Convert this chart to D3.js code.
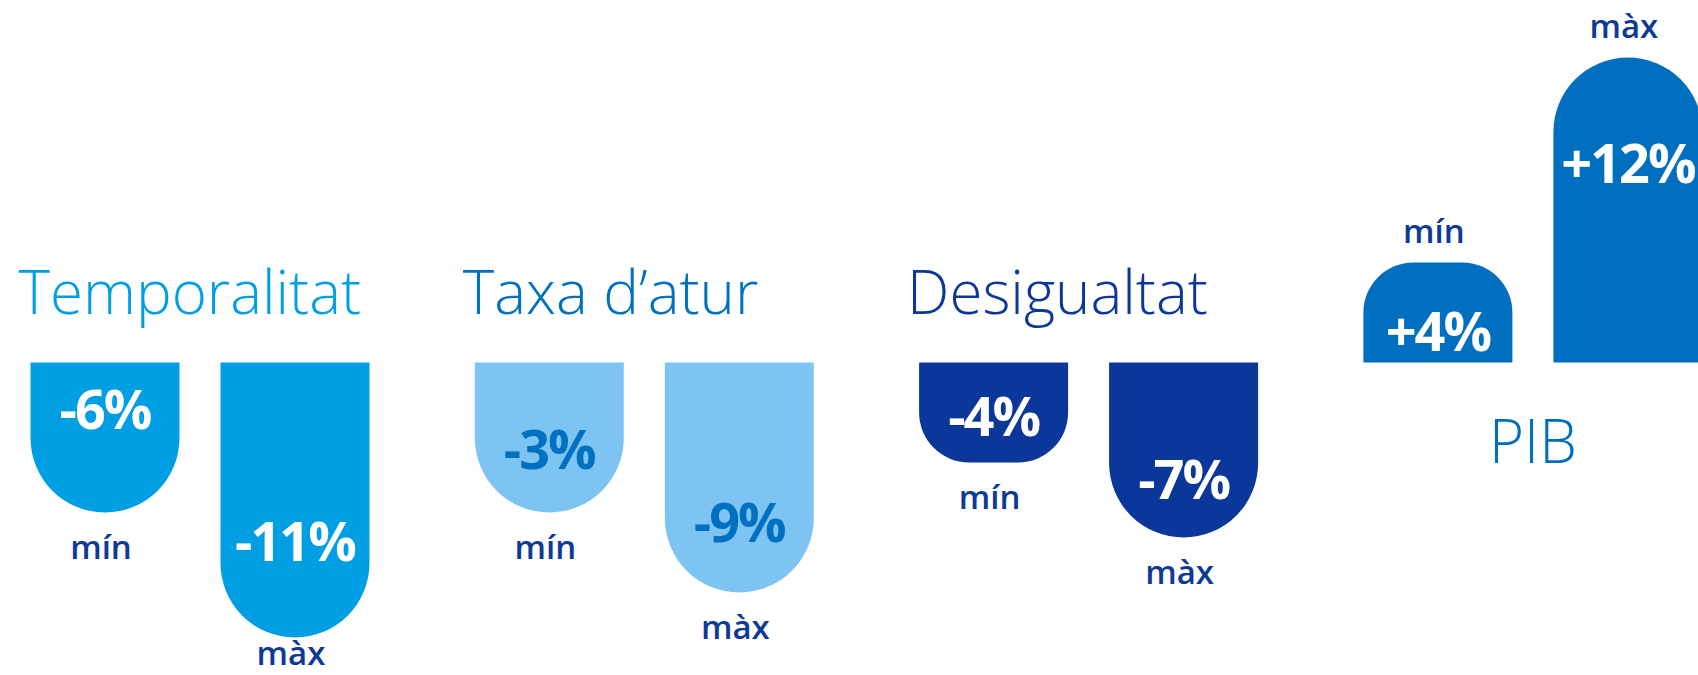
<!DOCTYPE html>
<html>

<head>
  <meta charset="UTF-8" />
  <title>Temporalitat, atur, desigualtat i PIB</title>
  <style>
    body {
      margin: 0;
      background: white;
      font-family: "Open Sans", Arial, sans-serif;
    }

    .title {
      font-size: 60px;
      font-weight: 300;
    }

    .value {
      font-size: 54px;
      font-weight: 700;
      letter-spacing: -2px;
    }

    .stat {
      font-size: 33px;
      font-weight: 600;
      fill: #0d3a94;
    }
  </style>
  <script src="https://d3js.org/d3.v7.min.js"></script>
</head>

<body>
  <div id="chart"></div>
  <script>
    // data
    const groups = ["Temporalitat", "Taxa d’atur", "Desigualtat", "PIB"];
    const stats = ["mín", "màx"];
    const minValues = [-6, -3, -4, 4];
    const maxValues = [-11, -9, -7, 12];
    // bar length as drawn, in points (the -3% bar is drawn as long as the -6% one)
    const minLengths = [6, 6, 4, 4];
    const maxLengths = [11, 9.2, 7, 12.2];

    const barColors = ["#009fe3", "#7dc4f3", "#0a3799", "#006fc0"];
    const titleColors = ["#009fe3", "#0070c0", "#0a3799", "#006fc0"];
    const valueColors = ["white", "#0070c0", "white", "white"];
    // where the value label baseline sits along each bar (0 = base, 1 = end)
    const minLabelAt = [0.44, 0.71, 0.73, 0.12];
    const maxLabelAt = [0.72, 0.78, 0.78, 0.59];

    let width = 1698, height = 675;
    let baseY = 362.5;
    let barW = 149;

    let svg = d3.select("#chart")
      .append("svg")
      .attr("width", width)
      .attr("height", height);

    let xGroup = d3.scaleBand()
      .domain(groups)
      .range([30.5, 30.5 + 444.3 * 4])
      .paddingInner(0)
      .paddingOuter(0);

    let xStat = d3.scaleOrdinal()
      .domain(stats)
      .range([0, 190]);

    let len = d3.scaleLinear()
      .domain([0, 12])
      .range([0, 300]);

    let bars = [];
    groups.forEach((g, i) => {
      [[minValues, minLengths, minLabelAt], [maxValues, maxLengths, maxLabelAt]].forEach((arr, j) => {
        bars.push({
          group: g, gi: i, stat: stats[j],
          value: arr[0][i], length: arr[1][i], labelAt: arr[2][i]
        });
      });
    });

    const barPath = d => {
      let x = xGroup(d.group) + xStat(d.stat);
      let h = len(d.length);
      let r = Math.min(barW / 2, h / 2);
      let p = d3.path();
      if (d.value < 0) {
        // hangs down from the base, rounded at the bottom
        p.moveTo(x, baseY);
        p.lineTo(x + barW, baseY);
        p.lineTo(x + barW, baseY + h - r);
        p.arcTo(x + barW, baseY + h, x + barW - r, baseY + h, r);
        p.lineTo(x + r, baseY + h);
        p.arcTo(x, baseY + h, x, baseY + h - r, r);
      } else {
        // grows up from the base, rounded at the top
        p.moveTo(x, baseY);
        p.lineTo(x, baseY - h + r);
        p.arcTo(x, baseY - h, x + r, baseY - h, r);
        p.lineTo(x + barW - r, baseY - h);
        p.arcTo(x + barW, baseY - h, x + barW, baseY - h + r, r);
        p.lineTo(x + barW, baseY);
      }
      p.closePath();
      return p.toString();
    };

    svg.selectAll("path.bar")
      .data(bars)
      .enter()
      .append("path")
      .attr("class", "bar")
      .attr("d", barPath)
      .attr("fill", d => barColors[d.gi]);

    const fmt = v => (v > 0 ? "+" : "-") + Math.abs(v) + "%";
    const dir = d => (d.value < 0 ? 1 : -1);

    svg.selectAll("text.value")
      .data(bars)
      .enter()
      .append("text")
      .attr("class", "value")
      .attr("text-anchor", "middle")
      .attr("x", d => xGroup(d.group) + xStat(d.stat) + barW / 2)
      .attr("y", d => baseY + dir(d) * len(d.length) * d.labelAt)
      .attr("fill", d => valueColors[d.gi])
      .text(d => fmt(d.value));

    svg.selectAll("text.stat")
      .data(bars)
      .enter()
      .append("text")
      .attr("class", "stat")
      .attr("text-anchor", "middle")
      .attr("x", d => xGroup(d.group) + xStat(d.stat) + barW / 2 - 4)
      .attr("y", d => d.value < 0
        ? Math.min(baseY + len(d.length) + 46, height - 10)
        : baseY - len(d.length) - 20)
      .text(d => d.stat);

    /* Group titles: above the hanging groups, below the rising one */
    svg.selectAll("text.title")
      .data(groups)
      .enter()
      .append("text")
      .attr("class", "title")
      .attr("fill", (d, i) => titleColors[i])
      .attr("text-anchor", (d, i) => minValues[i] < 0 ? "start" : "middle")
      .attr("x", (d, i) => minValues[i] < 0 ? xGroup(d) - 12 : xGroup(d) + (190 + barW) / 2)
      .attr("y", (d, i) => minValues[i] < 0 ? baseY - 49 : baseY + 100)
      .text(d => d);
  </script>
</body>

</html>
